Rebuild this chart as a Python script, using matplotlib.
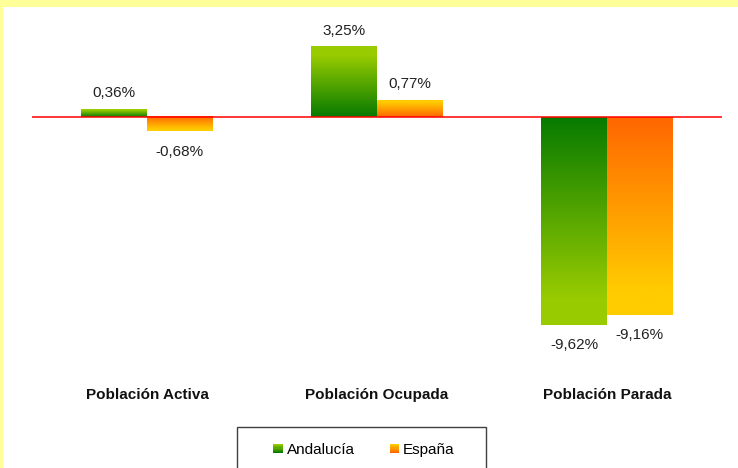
import numpy as np
import matplotlib.pyplot as plt
from matplotlib.colors import LinearSegmentedColormap, to_rgb
from matplotlib.patches import Rectangle
from matplotlib.legend_handler import HandlerBase

plt.rcParams['font.family'] = ['Liberation Sans', 'DejaVu Sans']

categories = ['Población Activa', 'Población Ocupada', 'Población Parada']
series = ['Andalucía', 'España']
andalucia = [0.36, 3.25, -9.62]
espana = [-0.68, 0.77, -9.16]
labels_and = ['0,36%', '3,25%', '-9,62%']
labels_esp = ['-0,68%', '0,77%', '-9,16%']

# gradient end points: (at zero, at bar tip)
grads = {'Andalucía': ('#077a00', '#99cc00'), 'España': ('#ff6600', '#ffcc00')}

fig = plt.figure(figsize=(7.38, 4.68), dpi=100, facecolor='#ffff99')
fig.patches.append(Rectangle((3 / 738, 0), 1, 1 - 7 / 468, transform=fig.transFigure,
                             facecolor='white', edgecolor='none', zorder=-5))

ax = fig.add_axes([32 / 738, (468 - 376) / 468, 690 / 738, 345.6 / 468])
ax.set_facecolor('none')
ax.set_xlim(-0.5, 2.5)
ax.set_ylim(-12, 4)
ax.axis('off')

w = 0.285


def grad_bar(x0, val, name):
    c0, c1 = grads[name]
    cmap = LinearSegmentedColormap.from_list(name, [c0, c1])
    g = np.clip(np.linspace(0, 1, 256) / 0.88, 0, 1).reshape(-1, 1)
    if val >= 0:
        img = g[::-1]
        ext = [x0, x0 + w, 0, val]
    else:
        img = g
        ext = [x0, x0 + w, val, 0]
    ax.imshow(img, cmap=cmap, extent=ext, aspect='auto', origin='upper',
              interpolation='bilinear', vmin=0, vmax=1, zorder=2)


for i in range(len(categories)):
    grad_bar(i - w, andalucia[i], 'Andalucía')
    grad_bar(i, espana[i], 'España')
    for x, v, lab in [(i - w / 2, andalucia[i], labels_and[i]), (i + w / 2, espana[i], labels_esp[i])]:
        off = 11.5 if v >= 0 else -15
        ax.annotate(lab, (x, v), xytext=(0, off), textcoords='offset points',
                    ha='center', va='center', fontsize=11, color='#222222')
    ax.text(i, -0.054, categories[i], transform=ax.get_xaxis_transform(),
            ha='center', va='center', fontsize=11, fontweight='bold', color='#111111')

ax.set_xlim(-0.5, 2.5)
ax.set_ylim(-12, 4)
ax.axhline(0, color='#ff0000', lw=1.1, zorder=3)


class GradHandler(HandlerBase):
    def __init__(self, c0, c1):
        super().__init__()
        self.c0, self.c1 = np.array(to_rgb(c0)), np.array(to_rgb(c1))

    def create_artists(self, legend, orig_handle, xdescent, ydescent, width, height, fontsize, trans):
        n = 8
        arts = []
        for k in range(n):
            t = k / (n - 1)
            col = self.c0 * (1 - t) + self.c1 * t
            r = Rectangle((-xdescent, -ydescent + height * k / n), width, height / n,
                          facecolor=col, edgecolor='none', transform=trans)
            arts.append(r)
        return arts


h1 = Rectangle((0, 0), 1, 1)
h2 = Rectangle((0, 0), 1, 1)
fig.legend([h1, h2], series, loc='center', bbox_to_anchor=(364 / 738, 1 - 450 / 468),
           ncol=2, frameon=False, fontsize=11, handlelength=0.62, handleheight=0.52,
           handletextpad=0.25, columnspacing=2.3,
           handler_map={h1: GradHandler(*grads['Andalucía']), h2: GradHandler(*grads['España'])})
fig.patches.append(Rectangle((237 / 738, -0.05), (486 - 237) / 738, 0.05 + (468 - 427) / 468,
                             transform=fig.transFigure, facecolor='none', edgecolor='#404040',
                             lw=1.0, zorder=5))

fig.savefig('out.png', dpi=100, facecolor=fig.get_facecolor())
